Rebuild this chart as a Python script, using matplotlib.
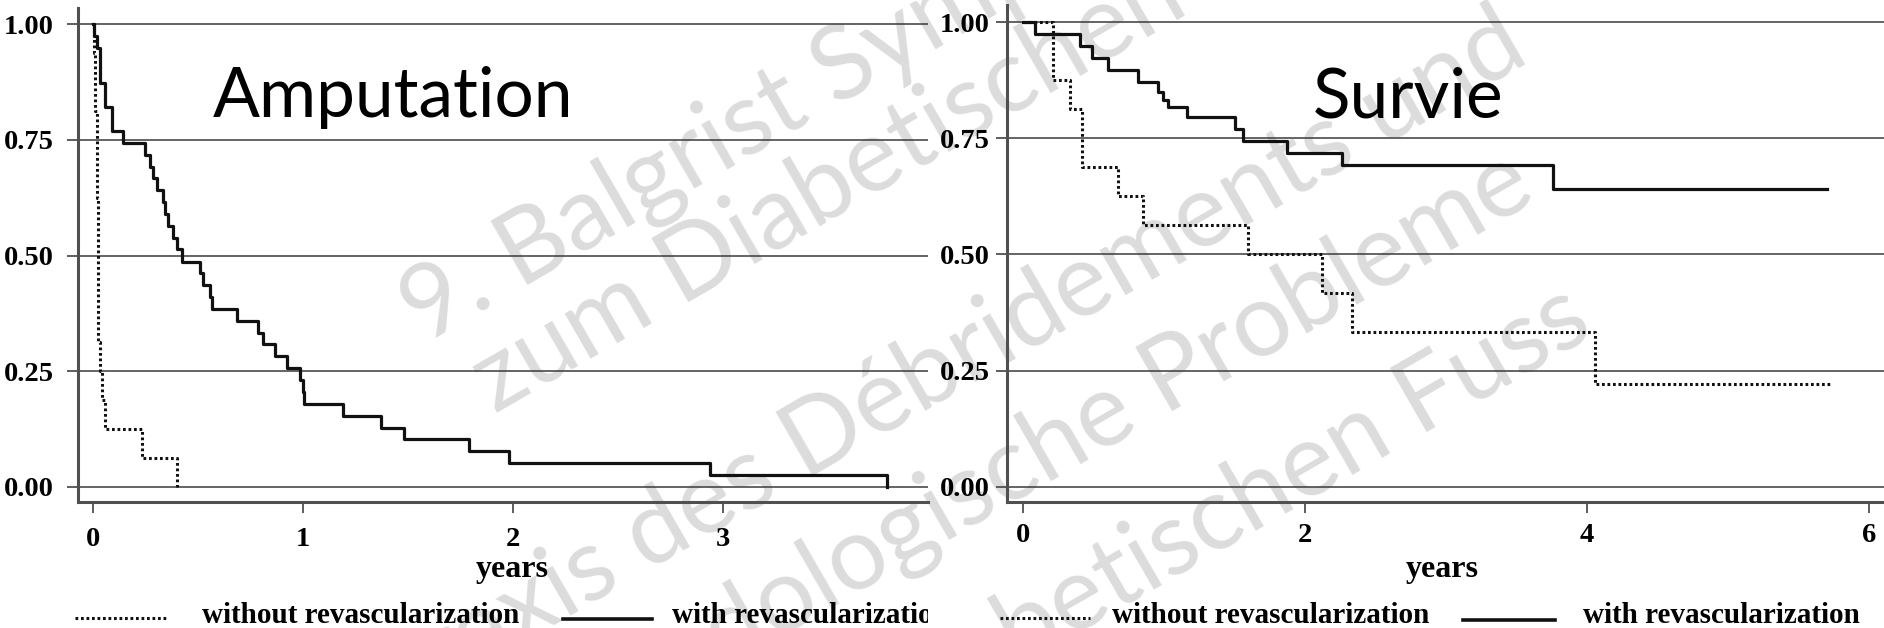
import matplotlib
matplotlib.use("Agg")

import matplotlib.pyplot as plt
from matplotlib.lines import Line2D
from matplotlib.transforms import Bbox, TransformedBbox

# =====================================================
# DATA
# =====================================================
# Amputation-free survival, years
amp_with_t = [0, 0.005, 0.02, 0.033, 0.057, 0.089, 0.144, 0.247, 0.271, 0.287,
              0.303, 0.335, 0.343, 0.359, 0.383, 0.398, 0.422, 0.509, 0.525,
              0.557, 0.565, 0.684, 0.788, 0.811, 0.867, 0.923, 0.986, 1.0,
              1.005, 1.19, 1.37, 1.48, 1.79, 1.98, 2.94, 3.78]
amp_with_s = [1.0, 0.974, 0.949, 0.872, 0.821, 0.769, 0.744, 0.718, 0.692, 0.667,
              0.641, 0.615, 0.590, 0.564, 0.538, 0.513, 0.487, 0.462, 0.436,
              0.410, 0.385, 0.359, 0.333, 0.308, 0.282, 0.256, 0.231, 0.205,
              0.179, 0.154, 0.128, 0.103, 0.077, 0.051, 0.026, 0.0]

amp_wo_t = [0, 0.005, 0.01, 0.018, 0.025, 0.033, 0.041, 0.057, 0.232, 0.402]
amp_wo_s = [1.0, 0.9375, 0.8125, 0.625, 0.3125, 0.25, 0.1875, 0.125, 0.0625, 0.0]

# Overall survival, years
surv_with_t = [0, 0.085, 0.404, 0.487, 0.605, 0.818, 0.960, 0.995, 1.031, 1.161,
               1.504, 1.563, 1.870, 2.260, 3.761, 5.70]
surv_with_s = [1.0, 0.974, 0.949, 0.923, 0.897, 0.872, 0.850, 0.833, 0.818, 0.795,
               0.769, 0.744, 0.718, 0.692, 0.641, 0.641]

surv_wo_t = [0, 0.213, 0.333, 0.416, 0.676, 0.853, 1.598, 2.118, 2.331, 4.057, 5.735]
surv_wo_s = [1.0, 0.875, 0.8125, 0.6875, 0.625, 0.5625, 0.5, 0.417, 0.333, 0.222, 0.222]

y_ticks = [0.0, 0.25, 0.5, 0.75, 1.0]
y_labels = ["0.00", "0.25", "0.50", "0.75", "1.00"]
amp_x_ticks = [0, 1, 2, 3]
surv_x_ticks = [0, 2, 4, 6]

label_without = "without revascularization"
label_with = "with revascularization"

watermark_lines = [
    "9. Balgrist Symposium",
    "zum Diabetischen Fuss",
    "Praxis des Débridements und",
    "podologische Probleme",
    "beim Diabetischen Fuss",
]

# =====================================================
# FIGURE
# =====================================================
W, H, DPI = 1884, 628, 100
fig = plt.figure(figsize=(W / DPI, H / DPI), dpi=DPI)
fig.patch.set_facecolor("white")


def fx(px):
    return px / W


def fy(py):
    return 1 - py / H


SERIF = "Liberation Serif"
SANS = "Lato"
GRID = "#3a3a3a"
SPINE = "#505050"
DOTS = (0, (0.9, 0.9))

# watermark behind everything
wm_pos = [(425, 345), (495, 414), (390, 720), (625, 728), (672, 868)]
for txt, (px, py) in zip(watermark_lines, wm_pos):
    fig.text(fx(px), fy(py), txt, rotation=30, rotation_mode="anchor",
             ha="left", va="baseline", fontsize=74, family=SANS,
             color="#dcdcdc", zorder=-5)

ax1 = fig.add_axes([fx(78), fy(502), 850 / W, 494 / H])
ax2 = fig.add_axes([fx(1007), fy(502), 877 / W, 497 / H])


def style_axes(ax, xticks, xlim, ylim, ypad, xpad):
    ax.set_facecolor("none")
    ax.set_xlim(*xlim)
    ax.set_ylim(*ylim)
    ax.set_yticks(y_ticks)
    ax.set_yticklabels(y_labels)
    ax.set_xticks(xticks)
    ax.set_xticklabels([str(v) for v in xticks])
    for side in ("top", "right"):
        ax.spines[side].set_visible(False)
    for side in ("left", "bottom"):
        ax.spines[side].set_color(SPINE)
        ax.spines[side].set_linewidth(2.2)
    ax.yaxis.grid(True, color=GRID, lw=1.1)
    ax.set_axisbelow(True)
    ax.tick_params(axis="y", length=8, width=1.3, color=SPINE, pad=ypad,
                   labelsize=20.5)
    ax.tick_params(axis="x", length=8, width=1.3, color=SPINE, pad=xpad,
                   labelsize=20.5)
    for lab in ax.get_xticklabels() + ax.get_yticklabels():
        lab.set_family(SERIF)
        lab.set_fontweight("bold")


style_axes(ax1, amp_x_ticks, (-0.0714, 3.976), (-0.0324, 1.0346), ypad=9.5, xpad=10)
style_axes(ax2, surv_x_ticks, (-0.1135, 6.106), (-0.0323, 1.0366), ypad=4.5, xpad=7)

# curves
ax1.step(amp_wo_t, amp_wo_s, where="post", color="#111111", lw=2.2, ls=DOTS)
ax1.step(amp_with_t, amp_with_s, where="post", color="#111111", lw=2.3)
ax2.step(surv_wo_t, surv_wo_s, where="post", color="#111111", lw=2.2, ls=DOTS)
ax2.step(surv_with_t, surv_with_s, where="post", color="#111111", lw=2.3)

# axis labels
for ax in (ax1, ax2):
    ax.set_xlabel("years", family=SERIF, fontweight="bold", fontsize=23)
    ax.xaxis.label.set_va("baseline")
ax1.xaxis.set_label_coords((512 - 78) / 850, -(577 - 502) / 494)
ax2.xaxis.set_label_coords((1442 - 1007) / 877, -(577 - 502) / 497)

# panel titles
fig.text(fx(213), fy(117), "Amputation", family=SANS, fontsize=50,
         ha="left", va="baseline", color="black")
fig.text(fx(1313), fy(117), "Survie", family=SANS, fontsize=50,
         ha="left", va="baseline", color="black")

# legends under each panel
left_clip = TransformedBbox(Bbox.from_extents(0, 0, fx(928), 1), fig.transFigure)

legend_items = [
    # (x0, x1, text_x, line_y, style, label, clip)
    (75, 168, 202, 618, DOTS, label_without, False),
    (563, 652, 672, 619, "-", label_with, True),
    (1000, 1090, 1112, 618, DOTS, label_without, False),
    (1463, 1555, 1583, 620, "-", label_with, False),
]
for x0, x1, tx, ly, style, label, clip in legend_items:
    dotted = style != "-"
    fig.add_artist(Line2D([fx(x0), fx(x1)], [fy(ly), fy(ly)],
                          transform=fig.transFigure, color="#111111",
                          lw=2.2 if dotted else 2.6, ls=style))
    t = fig.text(fx(tx), fy(623), label, family=SERIF, fontweight="bold",
                 fontsize=21, ha="left", va="baseline")
    if clip:
        t.set_clip_on(True)
        t.set_clip_box(left_clip)

fig.savefig("out.png", dpi=DPI)
